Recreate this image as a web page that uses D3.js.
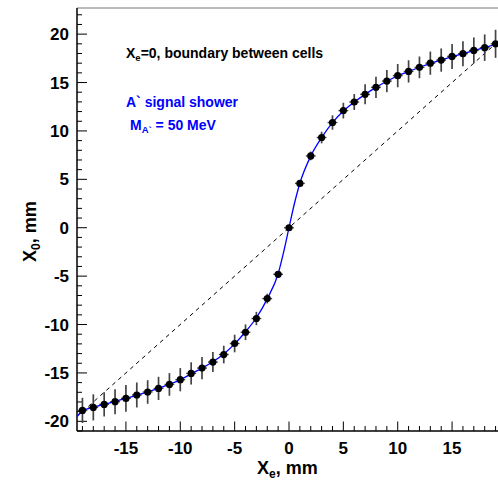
<!DOCTYPE html>
<html><head><meta charset="utf-8">
<script src="https://cdn.jsdelivr.net/npm/d3@7"></script>
<style>body{margin:0;background:#fff}svg{display:block}text{font-family:"Liberation Sans",Arial,sans-serif;font-weight:bold}</style>
</head><body><svg id="c" width="498" height="485"></svg>
<script>
const xe   = [-19,-18,-17,-16,-15,-14,-13,-12,-11,-10,-9,-8,-7,-6,-5,-4,-3,-2,-1,0,1,2,3,4,5,6,7,8,9,10,11,12,13,14,15,16,17,18,19];
const x0   = [-18.87,-18.56,-18.25,-17.97,-17.63,-17.28,-16.97,-16.6,-16.19,-15.7,-15.05,-14.5,-13.88,-13.1,-11.96,-10.8,-9.38,-7.32,-4.81,0,4.58,7.42,9.32,10.87,12.1,12.99,13.78,14.5,15.15,15.71,16.15,16.57,17.0,17.32,17.7,17.98,18.32,18.6,19.0];
const x0Err= [1.3,1.35,1.25,1.29,1.37,1.29,1.22,1.2,1.17,1.2,1.15,1.15,1.03,0.91,0.91,0.81,0.69,0.5,0.3,0.25,0.3,0.45,0.6,0.74,0.81,0.82,1.03,1.1,1.15,1.2,1.15,1.12,1.2,1.2,1.29,1.29,1.34,1.37,1.45];
const xeErr= 0.45;
const fitX = [-19.5,-19,-18,-17,-16,-15,-14,-13,-12,-11,-10,-9,-8,-7,-6,-5,-4,-3,-2,-1,-0.5,0,0.5,1,2,3,4,5,6,7,8,9,10,11,12,13,14,15,16,17,18,19,19.5];
const fitY = [-19.5,-18.95,-18.56,-18.25,-17.95,-17.63,-17.3,-16.97,-16.6,-16.19,-15.72,-15.1,-14.5,-13.85,-13.05,-12.0,-10.75,-9.3,-7.35,-4.75,-2.55,0,2.5,4.6,7.4,9.3,10.85,12.05,12.98,13.78,14.5,15.13,15.7,16.15,16.57,16.98,17.33,17.68,17.99,18.3,18.62,19.0,19.5];
const diag = [-19,19];
const xTicks = [-15,-10,-5,0,5,10,15];
const yTicks = [-20,-15,-10,-5,0,5,10,15,20];

const svg = d3.select("#c");
const x = d3.scaleLinear().domain([-19.5,19.5]).range([77,501]);
const y = d3.scaleLinear().domain([-21,22.7]).range([431,8]);

// frame top
svg.append("line").attr("x1",77).attr("x2",498).attr("y1",8).attr("y2",8).attr("stroke","#777").attr("stroke-width",1);

// x axis
const xMinor = d3.range(-19,20,1);
const gx = svg.append("g");
gx.selectAll("line.mn").data(xMinor).join("line").attr("x1",d=>x(d)).attr("x2",d=>x(d))
  .attr("y1",y.range()[0]).attr("y2",d=>y.range()[0]-(d%5===0?9.5:5)).attr("stroke","#000").attr("stroke-width",1);
gx.append("line").attr("x1",77).attr("x2",498).attr("y1",431).attr("y2",431).attr("stroke","#000").attr("stroke-width",1.5);
gx.selectAll("text").data(xTicks).join("text").attr("x",d=>x(d)).attr("y",453.5).attr("text-anchor","middle")
  .attr("font-size",17).text(d=>d);

// y axis
const yMinor = d3.range(-21,23,1);
const gy = svg.append("g");
gy.selectAll("line.mn").data(yMinor).join("line").attr("y1",d=>y(d)).attr("y2",d=>y(d))
  .attr("x1",77).attr("x2",d=>77+(d%5===0?10:5)).attr("stroke","#000").attr("stroke-width",1);
gy.append("line").attr("x1",77).attr("x2",77).attr("y1",8).attr("y2",431).attr("stroke","#000").attr("stroke-width",1.5);
gy.selectAll("text").data(yTicks).join("text").attr("x",69).attr("y",d=>y(d)+6).attr("text-anchor","end")
  .attr("font-size",17).text(d=>d);

// titles
const xt = svg.append("text").attr("x",257).attr("y",473.5).attr("font-size",18);
xt.append("tspan").text("X");
xt.append("tspan").attr("font-size",12).attr("dy",4).text("e");
xt.append("tspan").attr("dy",-4).text(", mm");
const yt = svg.append("text").attr("transform","translate(36,262) rotate(-90)").attr("font-size",18);
yt.append("tspan").text("X");
yt.append("tspan").attr("font-size",12).attr("dy",4).text("0");
yt.append("tspan").attr("dy",-4).text(", mm");

// dashed diagonal
svg.append("line").attr("x1",x(diag[0])).attr("y1",y(diag[0])).attr("x2",x(diag[1])).attr("y2",y(diag[1]))
  .attr("stroke","#000").attr("stroke-width",1).attr("stroke-dasharray","4,4");

// error bars
const pts = xe.map((v,i)=>({x:v,y:x0[i],e:x0Err[i]}));
svg.append("g").selectAll("line").data(pts).join("line")
  .attr("x1",d=>x(d.x)).attr("x2",d=>x(d.x)).attr("y1",d=>y(d.y-d.e)).attr("y2",d=>y(d.y+d.e))
  .attr("stroke","#444").attr("stroke-width",1.7);
svg.append("g").selectAll("line").data(pts).join("line")
  .attr("x1",d=>x(d.x-xeErr)).attr("x2",d=>x(d.x+xeErr)).attr("y1",d=>y(d.y)).attr("y2",d=>y(d.y))
  .attr("stroke","#444").attr("stroke-width",1.4);

// fit curve
const line = d3.line().x((d,i)=>x(fitX[i])).y((d,i)=>y(fitY[i])).curve(d3.curveMonotoneX);
svg.append("path").attr("d",line(fitX)).attr("fill","none").attr("stroke","#0000ff").attr("stroke-width",1.3);

// markers
svg.append("g").selectAll("circle").data(pts).join("circle")
  .attr("cx",d=>x(d.x)).attr("cy",d=>y(d.y)).attr("r",3.6).attr("fill","#000");

// annotations
const t1 = svg.append("text").attr("x",126).attr("y",58).attr("font-size",14).attr("fill","#000");
t1.append("tspan").text("X");
t1.append("tspan").attr("font-size",9.5).attr("dy",3).text("e");
t1.append("tspan").attr("dy",-3).text("=0, boundary between cells");
svg.append("text").attr("x",126).attr("y",106.5).attr("font-size",14).attr("fill","#0000ff").text("A` signal shower");
const t3 = svg.append("text").attr("x",130).attr("y",130).attr("font-size",14).attr("fill","#0000ff");
t3.append("tspan").text("M");
t3.append("tspan").attr("font-size",9.5).attr("dy",3).text("A`");
t3.append("tspan").attr("dy",-3).text(" = 50 MeV");
</script></body></html>
